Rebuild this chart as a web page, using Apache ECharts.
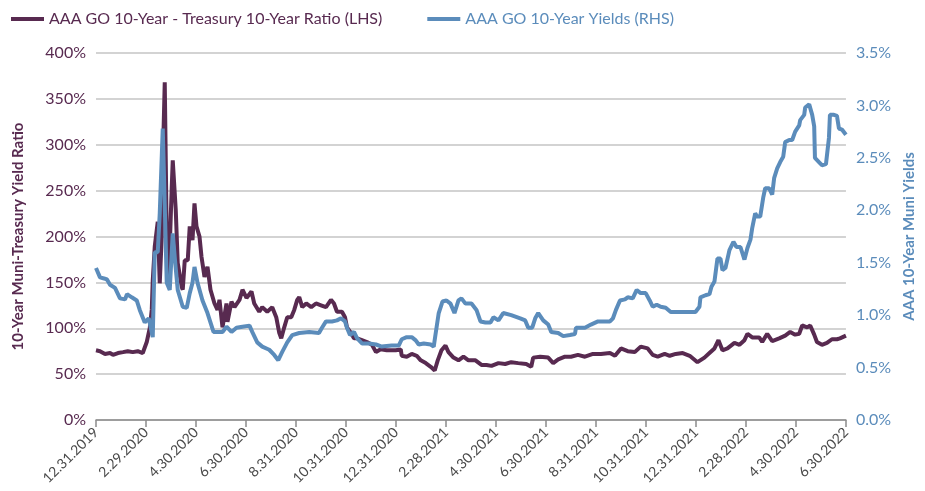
<!DOCTYPE html>
<html>
<head>
<meta charset="utf-8">
<script src="https://cdn.jsdelivr.net/npm/echarts@6/dist/echarts.min.js"></script>
<style>
  html, body { margin: 0; padding: 0; background: #fff; }
  #chart { width: 925px; height: 491px; }
</style>
</head>
<body>
<div id="chart"></div>
<script>
// x positions are months after 12.31.2019
const tickLabels = ['12.31.2019', '2.29.2020', '4.30.2020', '6.30.2020', '8.31.2020', '10.31.2020',
  '12.31.2020', '2.28.2021', '4.30.2021', '6.30.2021', '8.31.2021', '10.31.2021',
  '12.31.2021', '2.28.2022', '4.30.2022', '6.30.2022']

// AAA GO 10-Year / Treasury 10-Year ratio, %
const ratioMonths = [0, 0.16, 0.36, 0.56, 0.68, 0.88, 1.08, 1.27, 1.47, 1.67, 1.87, 2.03, 2.15, 2.23, 2.27,
  2.35, 2.39, 2.47, 2.55, 2.63, 2.67, 2.75, 2.83, 2.91, 3.03, 3.07, 3.19, 3.27, 3.43, 3.47, 3.55, 3.67,
  3.75, 3.86, 3.94, 4.02, 4.14, 4.22, 4.34, 4.46, 4.58, 4.74, 4.86, 4.94, 5.06, 5.22, 5.26, 5.42, 5.54,
  5.74, 5.86, 6.02, 6.22, 6.33, 6.53, 6.65, 6.85, 7.05, 7.21, 7.33, 7.41, 7.53, 7.65, 7.81, 7.93, 8.05,
  8.13, 8.25, 8.41, 8.61, 8.80, 9.00, 9.20, 9.40, 9.52, 9.64, 9.84, 9.96, 10.04, 10.20, 10.32, 10.44,
  10.64, 10.84, 11.04, 11.20, 11.39, 11.63, 11.99, 12.19, 12.23, 12.43, 12.63, 12.83, 12.99, 13.19,
  13.39, 13.55, 13.67, 13.82, 13.98, 14.10, 14.30, 14.50, 14.70, 14.90, 15.18, 15.42, 15.62, 15.82,
  16.10, 16.37, 16.61, 16.89, 17.21, 17.41, 17.49, 17.77, 18.09, 18.29, 18.49, 18.76, 19.00, 19.28,
  19.56, 19.88, 20.20, 20.56, 20.76, 21.00, 21.27, 21.55, 21.79, 22.07, 22.27, 22.47, 22.75, 22.95,
  23.19, 23.47, 23.75, 24.06, 24.34, 24.54, 24.74, 24.90, 25.06, 25.26, 25.54, 25.74, 25.94, 26.06,
  26.25, 26.53, 26.65, 26.85, 27.05, 27.33, 27.57, 27.77, 27.97, 28.13, 28.25, 28.45, 28.57, 28.73,
  28.84, 29.04, 29.24, 29.44, 29.64, 29.76, 30]
const ratioValues = [76, 75, 72, 73, 71, 73, 74, 75, 74, 75, 73, 85, 100, 120, 152,
  189, 190, 216, 149, 200, 280, 368, 200, 156, 254, 283, 229, 171, 145, 142, 174, 174,
  211, 196, 236, 211, 200, 178, 156, 167, 142, 127, 120, 131, 101, 127, 107, 129, 123,
  131, 142, 133, 140, 127, 118, 123, 118, 123, 112, 95, 89, 101, 112, 112, 120, 131,
  134, 123, 127, 123, 127, 125, 123, 131, 127, 118, 118, 112, 101, 95, 89, 89,
  87, 85, 82, 74, 77, 76, 76, 77, 70, 69, 72, 70, 65, 62,
  58, 54, 65, 76, 81, 74, 68, 65, 69, 65, 65, 60, 60, 59,
  62, 61, 63, 62, 61, 58, 68, 69, 68, 62, 66, 69, 69, 71,
  69, 72, 72, 73, 70, 78, 75, 74, 80, 78, 71, 69, 72, 70,
  72, 73, 70, 63, 68, 73, 78, 87, 76, 78, 84, 82, 87, 94,
  90, 90, 85, 94, 86, 89, 92, 96, 93, 94, 103, 101, 103, 93,
  85, 82, 84, 88, 88, 89, 92]

// AAA GO 10-Year yields, %
const yieldMonths = [0, 0.16, 0.32, 0.44, 0.56, 0.76, 0.96, 1.16, 1.24, 1.43, 1.63, 1.75, 1.95, 2.11,
  2.27, 2.35, 2.47, 2.55, 2.67, 2.75, 2.83, 2.95, 3.07, 3.15, 3.27, 3.47, 3.63, 3.75, 3.86, 3.94, 4.06,
  4.26, 4.46, 4.70, 4.94, 5.06, 5.22, 5.42, 5.62, 5.86, 6.14, 6.25, 6.45, 6.65, 6.93, 7.13, 7.29, 7.45,
  7.65, 7.85, 8.13, 8.53, 8.92, 9.04, 9.20, 9.44, 9.64, 9.80, 9.96, 10.04, 10.16, 10.32, 10.44, 10.64,
  10.92, 11.20, 11.43, 11.83, 12.11, 12.23, 12.43, 12.63, 12.79, 12.91, 13.11, 13.39, 13.51, 13.59,
  13.71, 13.86, 14.02, 14.18, 14.34, 14.50, 14.62, 14.78, 15.02, 15.22, 15.38, 15.58, 15.78, 15.90,
  16.10, 16.29, 16.61, 16.97, 17.17, 17.29, 17.45, 17.57, 17.69, 17.89, 18.09, 18.21, 18.49, 18.69,
  18.96, 19.16, 19.20, 19.56, 19.80, 20.08, 20.36, 20.56, 20.68, 20.80, 20.96, 21.16, 21.27, 21.47,
  21.63, 21.79, 21.99, 22.15, 22.27, 22.43, 22.59, 22.79, 22.99, 23.98, 24.14, 24.18, 24.38, 24.54,
  24.62, 24.74, 24.86, 24.98, 25.06, 25.18, 25.34, 25.50, 25.62, 25.78, 25.94, 26.06, 26.18, 26.25,
  26.37, 26.45, 26.57, 26.69, 26.77, 26.93, 27.05, 27.13, 27.25, 27.37, 27.49, 27.57, 27.73, 27.85,
  27.97, 28.13, 28.17, 28.33, 28.37, 28.53, 28.65, 28.73, 28.76, 28.92, 29.04, 29.20, 29.32, 29.36,
  29.52, 29.64, 29.72, 29.84, 30]
const yieldValues = [1.45, 1.36, 1.35, 1.34, 1.29, 1.26, 1.16, 1.15, 1.20, 1.17, 1.14, 1.05, 0.93, 0.97,
  0.79, 1.60, 1.60, 1.97, 2.78, 2.78, 1.31, 1.24, 1.78, 1.55, 1.24, 1.08, 1.07, 1.21, 1.31, 1.46, 1.31,
  1.14, 1.02, 0.84, 0.84, 0.84, 0.89, 0.84, 0.88, 0.89, 0.90, 0.84, 0.74, 0.70, 0.67, 0.62, 0.57, 0.65,
  0.74, 0.81, 0.83, 0.84, 0.83, 0.88, 0.94, 0.94, 0.95, 0.97, 0.94, 0.88, 0.81, 0.84, 0.78, 0.73,
  0.73, 0.72, 0.70, 0.71, 0.71, 0.77, 0.79, 0.79, 0.76, 0.72, 0.73, 0.72, 0.70, 0.83,
  1.02, 1.13, 1.14, 1.11, 1.02, 1.14, 1.16, 1.11, 1.11, 1.05, 0.94, 0.93, 0.93, 0.98,
  0.95, 1.02, 1.00, 0.97, 0.95, 0.88, 0.88, 0.97, 1.02, 0.95, 0.91, 0.84, 0.83, 0.80,
  0.81, 0.82, 0.88, 0.88, 0.91, 0.94, 0.94, 0.94, 0.97, 1.05, 1.14, 1.15, 1.17, 1.16,
  1.24, 1.21, 1.21, 1.14, 1.08, 1.10, 1.08, 1.07, 1.03, 1.03, 1.08, 1.17, 1.19, 1.20,
  1.27, 1.32, 1.54, 1.54, 1.43, 1.45, 1.62, 1.70, 1.65, 1.65, 1.53, 1.64, 1.72, 1.83,
  1.97, 1.94, 1.94, 2.12, 2.21, 2.21, 2.15, 2.31, 2.40, 2.46, 2.51, 2.65, 2.67, 2.67,
  2.75, 2.81, 2.86, 2.91, 2.98, 3.01, 2.91, 2.80, 2.50, 2.46, 2.43, 2.44, 2.69, 2.91,
  2.91, 2.90, 2.78, 2.77, 2.72]

const PURPLE = '#582a50'
const BLUE = '#5b8cbb'
const FONT = 'Lato'

let chart = echarts.init(document.getElementById('chart'))

chart.setOption({
  animation: false,
  textStyle: { fontFamily: FONT },
  legend: {
    top: 6,
    left: 6,
    itemWidth: 33,
    itemHeight: 4,
    itemGap: 45,
    icon: 'rect',
    textStyle: { fontSize: 16, fontFamily: FONT },
    data: [
      { name: 'AAA GO 10-Year - Treasury 10-Year Ratio (LHS)', textStyle: { color: PURPLE } },
      { name: 'AAA GO 10-Year Yields (RHS)', textStyle: { color: BLUE } }
    ]
  },
  grid: { left: 96, right: 76, top: 53, bottom: 71 },
  xAxis: {
    type: 'value',
    min: 0,
    max: 30,
    interval: 2,
    axisLine: { show: true, lineStyle: { color: '#8c8c8c', width: 1.5 } },
    axisTick: { show: true, length: 7, lineStyle: { color: '#8c8c8c', width: 1.5 } },
    splitLine: { show: false },
    axisLabel: {
      rotate: 45,
      color: '#4a4a4a',
      fontSize: 14,
      margin: 10,
      showMinLabel: true,
      showMaxLabel: true,
      formatter: v => tickLabels[Math.round(v / 2)]
    }
  },
  yAxis: [
    {
      type: 'value',
      min: 0,
      max: 400,
      interval: 50,
      name: '10-Year Muni-Treasury Yield Ratio',
      nameLocation: 'middle',
      nameGap: 70,
      nameTextStyle: { color: PURPLE, fontSize: 15, fontWeight: 'bold' },
      axisLine: { show: false },
      axisTick: { show: false },
      splitLine: { lineStyle: { color: '#c4c4c4', width: 1.5 } },
      axisLabel: { color: PURPLE, fontSize: 16, margin: 10, formatter: '{value}%' }
    },
    {
      type: 'value',
      min: 0,
      max: 3.5,
      interval: 0.5,
      name: 'AAA 10-Year Muni Yields',
      nameLocation: 'middle',
      nameGap: 55,
      nameTextStyle: { color: BLUE, fontSize: 15, fontWeight: 'bold' },
      axisLine: { show: false },
      axisTick: { show: false },
      splitLine: { show: false },
      axisLabel: { color: BLUE, fontSize: 16, margin: 10, formatter: v => v.toFixed(1) + '%' }
    }
  ],
  series: [
    {
      name: 'AAA GO 10-Year - Treasury 10-Year Ratio (LHS)',
      type: 'line',
      yAxisIndex: 0,
      showSymbol: false,
      color: PURPLE,
      lineStyle: { width: 4, color: PURPLE },
      data: ratioMonths.map((m, i) => [m, ratioValues[i]])
    },
    {
      name: 'AAA GO 10-Year Yields (RHS)',
      type: 'line',
      yAxisIndex: 1,
      showSymbol: false,
      color: BLUE,
      lineStyle: { width: 4, color: BLUE },
      data: yieldMonths.map((m, i) => [m, yieldValues[i]])
    }
  ]
})
</script>
</body>
</html>
